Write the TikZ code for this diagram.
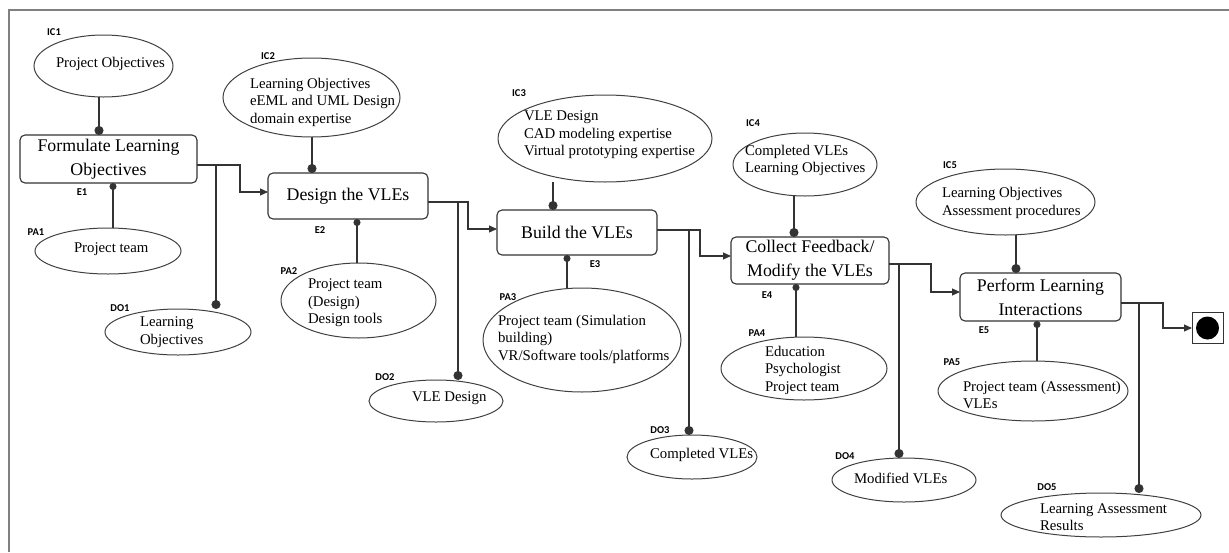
\documentclass[tikz,border=0pt]{standalone}
\usepackage{fontspec}
\setmainfont{Liberation Serif}
\newfontfamily\lblfont{Carlito}
\usetikzlibrary{arrows.meta,shapes.geometric}
\begin{document}
\begin{tikzpicture}[x=1pt,y=-1pt,
  every node/.style={inner sep=0pt, outer sep=0pt},
  proc/.style={draw=black!80, line width=1.1pt, rounded corners=5pt, fill=white, align=center, font=\fontsize{17.8}{24}\selectfont},
  oval/.style={draw=black!75, line width=1pt, ellipse},
  etext/.style={anchor=west, align=left, font=\fontsize{14.8}{17.5}\selectfont},
  tag/.style={font=\lblfont\bfseries\fontsize{10.5}{12}\selectfont},
  flow/.style={draw=black!80, line width=1.1pt, -{Triangle[length=8pt,width=7pt]}},
  ctl/.style={draw=black!80, line width=1.1pt, -{Circle[length=9pt]}},
  res/.style={draw=black!80, line width=1.1pt, -{Circle[length=7pt]}},
]
\useasboundingbox (0,0) rectangle (1229,552);
% frame
\draw[black!50, line width=1.5pt] (9,552) -- (9,10) -- (1229,10);

% process boxes
\node[proc, minimum width=177pt, minimum height=48pt] (b1) at (108.5,159) {Formulate Learning\\Objectives};
\node[proc, minimum width=160pt, minimum height=46pt] (b2) at (348,196) {Design the VLEs};
\node[proc, minimum width=160pt, minimum height=45pt] (b3) at (577,232.5) {Build the VLEs};
\node[proc, minimum width=158pt, minimum height=47pt] (b4) at (810,260.5) {Collect Feedback/\\Modify the VLEs};
\node[proc, minimum width=161pt, minimum height=48pt] (b5) at (1040.5,297) {Perform Learning\\Interactions};
\node[draw=black!80, line width=1pt, minimum size=31pt] (end) at (1207.5,328) {};
\node[circle, fill=black, minimum size=23pt] (endc) at (end.center) {};

% ellipses
\node[oval, minimum width=139pt, minimum height=62pt] (ic1) at (103.5,66) {};
\node[oval, minimum width=146pt, minimum height=46pt] (pa1) at (108,251) {};
\node[oval, minimum width=146pt, minimum height=46pt] (do1) at (178,332) {};
\node[oval, minimum width=177pt, minimum height=79pt] (ic2) at (311.5,97.5) {};
\node[oval, minimum width=155pt, minimum height=75pt] (pa2) at (358.5,300.5) {};
\node[oval, minimum width=134pt, minimum height=42pt] (do2) at (436,401) {};
\node[oval, minimum width=214pt, minimum height=87pt] (ic3) at (605,138.5) {};
\node[oval, minimum width=198pt, minimum height=104pt] (pa3) at (582,340) {};
\node[oval, minimum width=130pt, minimum height=44pt] (do3) at (692,457) {};
\node[oval, minimum width=144pt, minimum height=63pt] (ic4) at (805,164.5) {};
\node[oval, minimum width=166pt, minimum height=63pt] (pa4) at (804,368.5) {};
\node[oval, minimum width=144pt, minimum height=44pt] (do4) at (904,480) {};
\node[oval, minimum width=179pt, minimum height=66pt] (ic5) at (1005.5,202) {};
\node[oval, minimum width=190pt, minimum height=60pt] (pa5) at (1033,391) {};
\node[oval, minimum width=200pt, minimum height=44pt] (do5) at (1101,515) {};

% ellipse texts
\node[etext] (tic1) at (56,64) {Project Objectives};
\node[etext] (tpa1) at (74,249) {Project team};
\node[etext] (tdo1) at (140,332) {Learning\\Objectives};
\node[etext] (tic2) at (250,102) {Learning Objectives\\eEML and UML Design\\domain expertise};
\node[etext] (tpa2) at (308,303) {Project team\\(Design)\\Design tools};
\node[etext] (tdo2) at (412,398) {VLE Design};
\node[etext] (tic3) at (524,135) {VLE Design\\CAD modeling expertise\\Virtual prototyping expertise};
\node[etext] (tpa3) at (498,339) {Project team (Simulation\\building)\\VR/Software tools/platforms};
\node[etext] (tdo3) at (650,455) {Completed VLEs};
\node[etext] (tic4) at (745,160.5) {Completed VLEs\\Learning Objectives};
\node[etext] (tpa4) at (765,370) {Education\\Psychologist\\Project team};
\node[etext] (tdo4) at (854,478) {Modified VLEs};
\node[etext] (tic5) at (942,203) {Learning Objectives\\Assessment procedures};
\node[etext] (tpa5) at (963,395) {Project team (Assessment)\\VLEs};
\node[etext] (tdo5) at (1040,517) {Learning Assessment\\Results};

% tags
\node[tag] (lic1) at (54,32) {IC1};
\node[tag] (le1) at (82,192) {E1};
\node[tag] (lpa1) at (36,232) {PA1};
\node[tag] (ldo1) at (120,308) {DO1};
\node[tag] (lic2) at (268,56) {IC2};
\node[tag] (le2) at (320,230) {E2};
\node[tag] (lpa2) at (289,271) {PA2};
\node[tag] (ldo2) at (385,377) {DO2};
\node[tag] (lic3) at (519,93) {IC3};
\node[tag] (le3) at (595,264) {E3};
\node[tag] (lpa3) at (508,297) {PA3};
\node[tag] (ldo3) at (660,430) {DO3};
\node[tag] (lic4) at (753,123) {IC4};
\node[tag] (le4) at (767,295) {E4};
\node[tag] (lpa4) at (757,333) {PA4};
\node[tag] (ldo4) at (845,456) {DO4};
\node[tag] (lic5) at (950,165) {IC5};
\node[tag] (le5) at (984,330) {E5};
\node[tag] (lpa5) at (952,362) {PA5};
\node[tag] (ldo5) at (1047,487) {DO5};

% input connectors
\draw[ctl] (ic1.south -| 99,0) -- (b1.north -| 99,0);
\draw[ctl] (ic2.south -| 312,0) -- (b2.north -| 312,0);
\draw[ctl] (ic3.south -| 553,0) -- (b3.north -| 553,0);
\draw[ctl] (ic4.south -| 794,0) -- (b4.north -| 794,0);
\draw[ctl] (ic5.south -| 1016,0) -- (b5.north -| 1016,0);

% resource connectors
\draw[res] (pa1.north -| 113,0) -- (b1.south -| 113,0);
\draw[res] (pa2.north -| 357,0) -- (b2.south -| 357,0);
\draw[res] (pa3.north -| 567,0) -- (b3.south -| 567,0);
\draw[res] (pa4.north -| 796,0) -- (b4.south -| 796,0);
\draw[res] (pa5.north -| 1037,0) -- (b5.south -| 1037,0);

% flow
\draw[flow] ([yshift=-6pt]b1.east) -- ++(43,0) |- ([yshift=4pt]b2.west);
\draw[flow] ([yshift=-6pt]b2.east) -- ++(40,0) |- ([yshift=3.5pt]b3.west);
\draw[flow] ([yshift=2.5pt]b3.east) -- ++(43,0) |- ([yshift=4.5pt]b4.west);
\draw[flow] ([yshift=-3.5pt]b4.east) -- ++(42,0) |- ([yshift=5pt]b5.west);
\draw[flow] ([yshift=-6pt]b5.east) -- ++(42,0) |- (end.west);

% deliverable outputs
\coordinate (o1) at (216,165);
\coordinate (o2) at (458,202);
\coordinate (o3) at (689,230);
\coordinate (o4) at (899,264);
\coordinate (o5) at (1139,303);
\draw[ctl] (o1) -- (o1 |- do1.north);
\draw[ctl] (o2) -- (o2 |- do2.north);
\draw[ctl] (o3) -- (o3 |- do3.north);
\draw[ctl] (o4) -- (o4 |- do4.north);
\draw[ctl] (o5) -- (o5 |- do5.north);
\end{tikzpicture}
\end{document}
